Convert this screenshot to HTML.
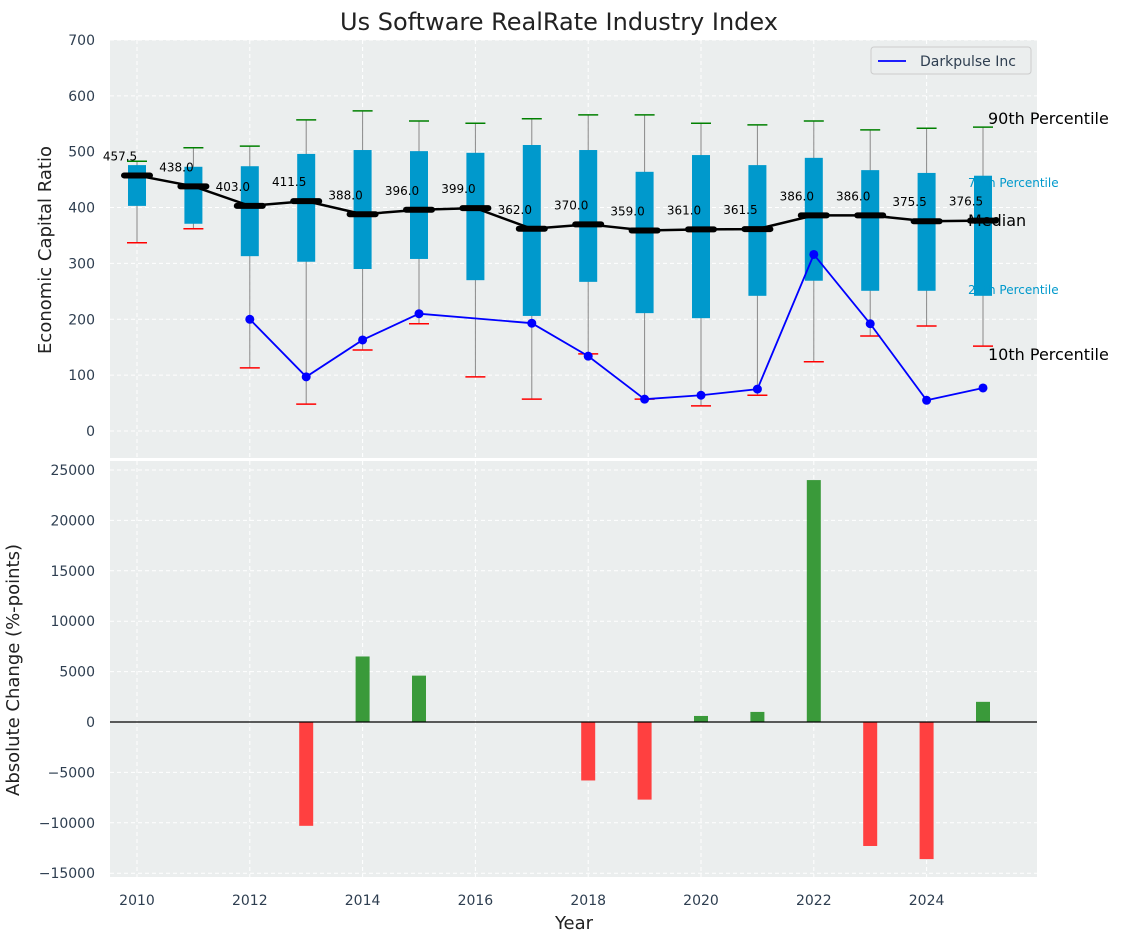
<!DOCTYPE html>
<html><head><meta charset="utf-8"><style>
body{margin:0;background:#fff;font-family:"Liberation Sans","DejaVu Sans",sans-serif}
svg text{font-family:"DejaVu Sans","Liberation Sans",sans-serif}
</style></head><body>
<svg id="c" width="1123" height="942" xmlns="http://www.w3.org/2000/svg"></svg>
<script>
const years=[2010,2011,2012,2013,2014,2015,2016,2017,2018,2019,2020,2021,2022,2023,2024,2025];
const p90=[483,507,510,557,573,555,551,559,566,566,551,548,555,539,542,544];
const p75=[476,473,474,496,503,501,498,512,503,464,494,476,489,467,462,457];
const median=[457.5,438,403,411.5,388,396,399,362,370,359,361,361.5,386,386,375.5,376.5];
const p25=[403,371,313,303,290,308,270,206,267,211,202,242,269,251,251,242];
const p10=[337,362,113,48,145,192,97,57,138,57,45,64,124,170,188,152];
const dpYears=[2012,2013,2014,2015,2017,2018,2019,2020,2021,2022,2023,2024,2025];
const dpVals=[200,97,163,210,193,134,57,64,75,316,192,55,77];
const chgYears=[2013,2014,2015,2018,2019,2020,2021,2022,2023,2024,2025];
const chgVals=[-10300,6500,4600,-5800,-7700,600,1000,24000,-12300,-13600,2000];
const topTicks=[0,100,200,300,400,500,600,700];
const botTicks=[-15000,-10000,-5000,0,5000,10000,15000,20000,25000];
const xTicks=[2010,2012,2014,2016,2018,2020,2022,2024];

const NS="http://www.w3.org/2000/svg";
const svg=document.getElementById('c');
function el(t,a,txt){const e=document.createElementNS(NS,t);for(const k in a)e.setAttribute(k,a[k]);if(txt!==undefined)e.textContent=txt;svg.appendChild(e);return e;}
const X=y=>137+(y-2010)*56.4;
const YT=v=>431-v*0.5586;
const YB=v=>722-v*0.01008;
const L=110,R=1037;

let e;
e=el('rect',{x:L,y:40,width:R-L,height:418,fill:'#ebeeee'});


e=el('rect',{x:L,y:461,width:R-L,height:416,fill:'#ebeeee'});



xTicks.forEach(t=>{
  [[40,458],[461,877]].forEach(r=>{el('line',{x1:X(t),x2:X(t),y1:r[0],y2:r[1],stroke:'#fff','stroke-dasharray':'4,3'});});
  e=el('text',{x:X(t),y:905,'text-anchor':'middle','font-size':14,fill:'#2e3e50'},t);
  
  
});
topTicks.forEach(t=>{
  el('line',{x1:L,x2:R,y1:YT(t),y2:YT(t),stroke:'#fff','stroke-dasharray':'4,3'});
  e=el('text',{x:95,y:YT(t)+5,'text-anchor':'end','font-size':14,fill:'#2e3e50'},t);
  
  
});
botTicks.forEach(t=>{
  el('line',{x1:L,x2:R,y1:YB(t),y2:YB(t),stroke:'#fff','stroke-dasharray':'4,3'});
  e=el('text',{x:95,y:YB(t)+5,'text-anchor':'end','font-size':14,fill:'#2e3e50'},String(t).replace('-','\u2212'));
  
  
});

years.forEach((y,i)=>{
  const x=X(y);
  el('line',{x1:x,x2:x,y1:YT(p10[i]),y2:YT(p90[i]),stroke:'#888','stroke-width':1});
  e=el('rect',{x:x-9,y:YT(p75[i]),width:18,height:YT(p25[i])-YT(p75[i]),fill:'#0099cc'});
  
  
  el('line',{x1:x-10,x2:x+10,y1:YT(p90[i]),y2:YT(p90[i]),stroke:'green','stroke-width':1.5});
  el('line',{x1:x-10,x2:x+10,y1:YT(p10[i]),y2:YT(p10[i]),stroke:'red','stroke-width':1.5});
});
e=el('polyline',{points:years.map((y,i)=>X(y)+','+YT(median[i])).join(' '),fill:'none',stroke:'#000','stroke-width':2.5});


years.forEach((y,i)=>{
  e=el('line',{x1:X(y)-13,x2:X(y)+13,y1:YT(median[i]),y2:YT(median[i]),stroke:'#000','stroke-width':6,'stroke-linecap':'round'});
  
  
  e=el('text',{x:X(y)-17,y:YT(median[i])-15,'text-anchor':'middle','font-size':12,fill:'#000'},median[i].toFixed(1));
  
  
});
e=el('polyline',{points:dpYears.map((y,i)=>X(y)+','+YT(dpVals[i])).join(' '),fill:'none',stroke:'blue','stroke-width':1.8});


dpYears.forEach((y,i)=>{
  e=el('circle',{cx:X(y),cy:YT(dpVals[i]),r:4.5,fill:'blue'});
  
  
});
[['90th Percentile',988,124,16,'#000'],['75th Percentile',968,187,12,'#0099cc'],['Median',968,226,16,'#000'],['25th Percentile',968,294,12,'#0099cc'],['10th Percentile',988,360,16,'#000']].forEach(a=>{
  e=el('text',{x:a[1],y:a[2],'font-size':a[3],fill:a[4]},a[0]);
  
  
});
e=el('rect',{x:871,y:47,width:160,height:27,fill:'#ebeeee',stroke:'#ccc',rx:3});


el('line',{x1:878,x2:906,y1:61,y2:61,stroke:'blue','stroke-width':1.8});
e=el('text',{x:920,y:66,'font-size':14,fill:'#2e3e50'},'Darkpulse Inc');



chgYears.forEach((y,i)=>{
  const v=chgVals[i];
  e=el('rect',{x:X(y)-7,y:Math.min(YB(v),YB(0)),width:14,height:Math.abs(YB(v)-YB(0)),fill:v>=0?'#3a9a3a':'#ff4040'});
  
  
});
el('line',{x1:L,x2:R,y1:YB(0),y2:YB(0),stroke:'#000','stroke-width':1.2});

e=el('text',{x:559,y:30,'text-anchor':'middle','font-size':24,fill:'#222'},'Us Software RealRate Industry Index');


e=el('text',{x:0,y:0,'text-anchor':'middle','font-size':18,fill:'#222',transform:'translate(51,250) rotate(-90)'},'Economic Capital Ratio');


e=el('text',{x:0,y:0,'text-anchor':'middle','font-size':18,fill:'#222',transform:'translate(19,670) rotate(-90)'},'Absolute Change (%-points)');


e=el('text',{x:574,y:929,'text-anchor':'middle','font-size':18,fill:'#222'},'Year');


</script>
</body></html>
